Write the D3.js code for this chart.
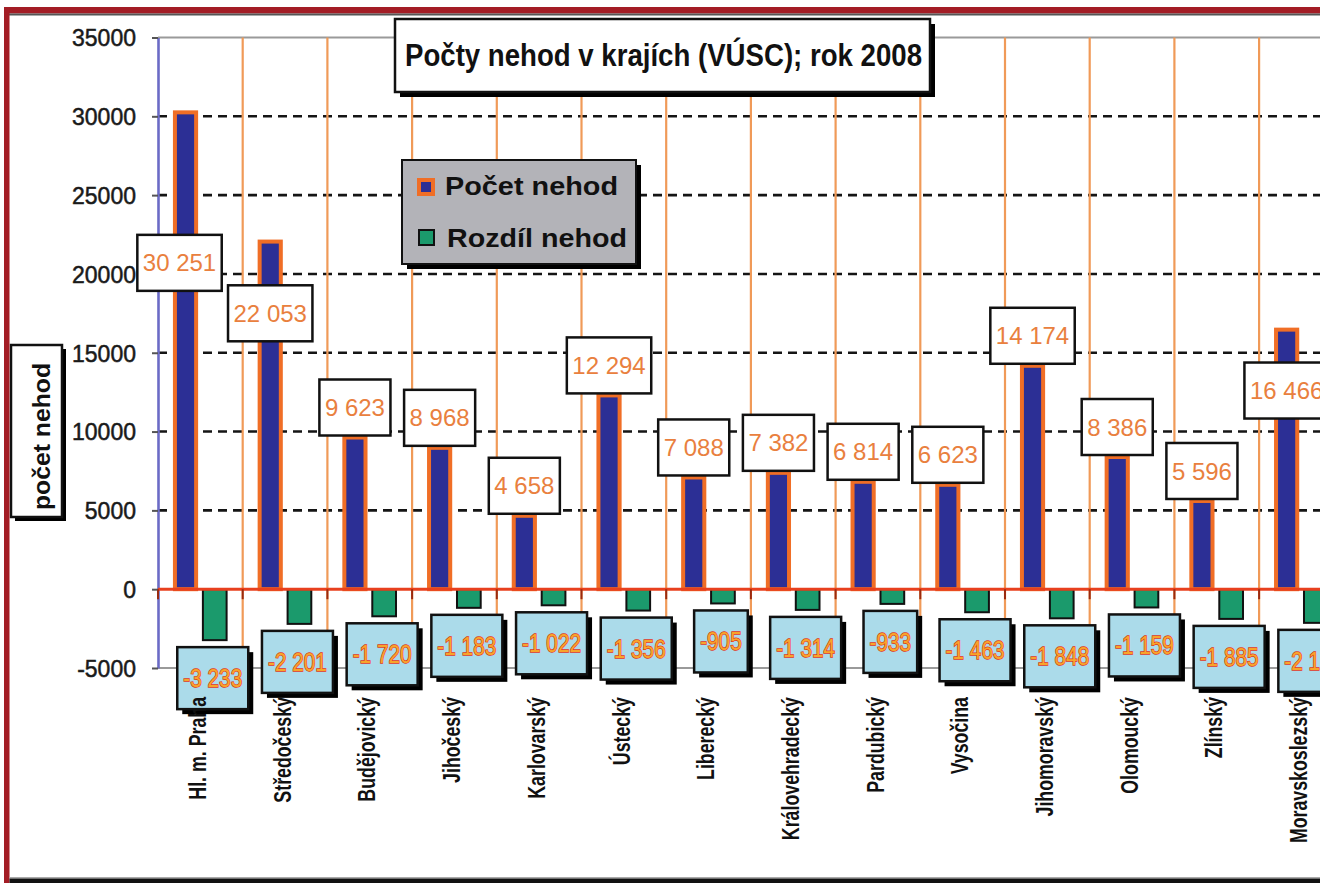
<!DOCTYPE html>
<html><head><meta charset="utf-8">
<script src="https://cdn.jsdelivr.net/npm/d3@7"></script>
<style>html,body{margin:0;padding:0;background:#fff;overflow:hidden} svg{display:block}</style>
</head><body>
<svg id="chart" width="1320" height="883"></svg>
<script>
// ---------- data ----------
const categories = ["Hl. m. Praha","Středočeský","Budějovický","Jihočeský","Karlovarský","Ústecký","Liberecký","Královehradecký","Pardubický","Vysočina","Jihomoravský","Olomoucký","Zlínský","Moravskoslezský"];
const pocetNehod = [30251,22053,9623,8968,4658,12294,7088,7382,6814,6623,14174,8386,5596,16466];
const rozdilNehod = [-3233,-2201,-1720,-1183,-1022,-1356,-905,-1314,-933,-1463,-1848,-1159,-1885,-2136];
const yTicks = [35000,30000,25000,20000,15000,10000,5000,0,-5000];
const seriesNames = ["Počet nehod","Rozdíl nehod"];
const chartTitle = "Počty nehod v krajích (VÚSC); rok 2008";
const yTitle = "počet nehod";

// ---------- layout (manually moved labels, in data units) ----------
const labelMoves = {"Hl. m. Praha":{at:18800,dx:-6},"Středočeský":{at:15600,dx:0},"Moravskoslezský":{at:10700,dx:0}};

const FONT = "'Liberation Sans', Arial, sans-serif";
const svg = d3.select("#chart");
const W = 1320;

const loc = d3.formatLocale({decimal:",",thousands:" ",grouping:[3],currency:["",""],minus:"-"});
const fmtGroup = loc.format(",d");
const fmtInt = loc.format("d");

const y = d3.scaleLinear().domain([-5000,35000]).range([668,37.5]);
const x = d3.scaleBand().domain(categories).range([158,158+84.7*categories.length]).padding(0);
const bw = x.bandwidth();

svg.append("rect").attr("x",0).attr("y",0).attr("width",W).attr("height",883).attr("fill","#fff");

// ---------- gridlines ----------
const grid = svg.append("g");
yTicks.forEach(v=>{
  if (v===0) return;
  const solid = (v===35000||v===-5000);
  grid.append("line").attr("x1",158).attr("x2",W).attr("y1",y(v)).attr("y2",y(v))
    .attr("stroke",solid?"#9a9a9a":"#151515").attr("stroke-width",solid?2:2.6)
    .attr("stroke-dasharray",solid?null:"9,6");
});
d3.range(1,categories.length+1).forEach(k=>{
  const xx = 158 + k*bw;
  grid.append("line").attr("x1",xx).attr("x2",xx).attr("y1",y(35000)).attr("y2",y(-5000))
    .attr("stroke","#f09a58").attr("stroke-width",2.2);
});

// ---------- axis ----------
const ax = svg.append("g").attr("transform","translate(158,0)")
  .call(d3.axisLeft(y).tickValues(yTicks).tickFormat(fmtInt).tickSize(6).tickSizeOuter(0).tickPadding(16));
ax.select(".domain").attr("stroke","#6b6bc6").attr("stroke-width",2.6);
ax.selectAll(".tick line").attr("stroke","#555").attr("stroke-width",2);
ax.selectAll(".tick text").attr("font-family",FONT).attr("font-size",23).attr("fill","#1a1a1a")
  .attr("stroke","#1a1a1a").attr("stroke-width",0.5).attr("dy","0.36em");

// ---------- bars ----------
const bars = svg.append("g");
bars.selectAll("rect.pos").data(categories).join("rect").attr("class","pos")
  .attr("x",c=>x(c)+0.2*bw).attr("width",0.25*bw)
  .attr("y",(c,i)=>y(pocetNehod[i])).attr("height",(c,i)=>y(0)-y(pocetNehod[i]))
  .attr("fill","#2c2f95").attr("stroke","#f06e26").attr("stroke-width",4);
bars.selectAll("rect.neg").data(categories).join("rect").attr("class","neg")
  .attr("x",c=>x(c)+0.53*bw).attr("width",0.28*bw)
  .attr("y",y(0)).attr("height",(c,i)=>y(rozdilNehod[i])-y(0))
  .attr("fill","#1b9a6c").attr("stroke","#111").attr("stroke-width",2);

svg.append("line").attr("x1",158).attr("x2",W).attr("y1",y(0)).attr("y2",y(0))
  .attr("stroke","#e8401e").attr("stroke-width",3);
d3.range(0,categories.length+1).forEach(k=>{
  const xx = 158 + k*bw;
  svg.append("line").attr("x1",xx).attr("x2",xx).attr("y1",y(0)).attr("y2",y(0)+10)
    .attr("stroke","#9a2a10").attr("stroke-width",2);
});

// ---------- positive value labels ----------
const posL = svg.append("g");
categories.forEach((c,i)=>{
  const v = pocetNehod[i];
  const mv = labelMoves[c];
  const anchorV = mv ? mv.at : v;
  const cx = x(c)+0.325*bw + (mv?mv.dx:0);
  const bottom = y(anchorV) - 2;
  const g = posL.append("g");
  const rect = g.append("rect");
  const t = g.append("text").text(fmtGroup(v)).attr("font-family",FONT).attr("font-size",24)
    .attr("fill","#e9803e").attr("text-anchor","middle").attr("x",cx).attr("y",bottom-28+8.6);
  const tw = t.node().getComputedTextLength();
  const w = tw+11, h = 56;
  rect.attr("x",cx-w/2).attr("y",bottom-h).attr("width",w).attr("height",h)
    .attr("fill","#fff").attr("stroke","#111").attr("stroke-width",2.5);
});

// ---------- negative value labels ----------
const negL = svg.append("g");
categories.forEach((c,i)=>{
  const v = rozdilNehod[i];
  const cx = x(c)+0.67*bw-2;
  const top = y(v)+7;
  const h = 62;
  const g = negL.append("g");
  const sh = g.append("rect");
  const rect = g.append("rect");
  const t = g.append("text").text(fmtGroup(v)).attr("font-family",FONT).attr("font-size",26)
    .attr("fill","#f7a52a").attr("stroke","#e2361b").attr("stroke-width",1.4).attr("paint-order","stroke")
    .attr("text-anchor","middle").attr("x",cx).attr("y",top+h/2+9);
  const tw0 = t.node().getComputedTextLength();
  const tw = tw0*0.8;
  t.attr("textLength",tw).attr("lengthAdjust","spacingAndGlyphs");
  const w = tw+12;
  sh.attr("x",cx-w/2+5).attr("y",top+5).attr("width",w).attr("height",h).attr("fill","#000");
  rect.attr("x",cx-w/2).attr("y",top).attr("width",w).attr("height",h)
    .attr("fill","#abdbea").attr("stroke","#111").attr("stroke-width",2.5);
});

// ---------- category labels ----------
const catL = svg.append("g");
categories.forEach(c=>{
  const t = catL.append("text").text(c).attr("font-family",FONT).attr("font-size",24).attr("font-weight","bold")
    .attr("fill","#111").attr("text-anchor","end")
    .attr("transform",`translate(${x(c)+48},697) rotate(-90)`);
  const tw = t.node().getComputedTextLength();
  t.attr("textLength",tw*0.74).attr("lengthAdjust","spacingAndGlyphs");
});

// ---------- title ----------
svg.append("rect").attr("x",400).attr("y",24).attr("width",535).attr("height",73).attr("fill","#000");
svg.append("rect").attr("x",395).attr("y",19).attr("width",535).attr("height",73)
  .attr("fill","#fff").attr("stroke","#111").attr("stroke-width",2.5);
svg.append("text").text(chartTitle).attr("x",405).attr("y",66).attr("font-family",FONT)
  .attr("font-size",31).attr("font-weight","bold").attr("fill","#111")
  .attr("textLength",517).attr("lengthAdjust","spacingAndGlyphs");

// ---------- legend ----------
svg.append("rect").attr("x",407).attr("y",165).attr("width",234).attr("height",104).attr("fill","#000");
svg.append("rect").attr("x",402).attr("y",160).attr("width",234).attr("height",104)
  .attr("fill","#b3b3b8").attr("stroke","#111").attr("stroke-width",2);
const lg = svg.append("g");
lg.append("rect").attr("x",419).attr("y",180).attr("width",14).attr("height",14)
  .attr("fill","#2c2f95").attr("stroke","#f06e26").attr("stroke-width",4);
lg.append("rect").attr("x",419).attr("y",230).attr("width",15).attr("height",15)
  .attr("fill","#1b9a6c").attr("stroke","#111").attr("stroke-width",2);
lg.append("text").text(seriesNames[0]).attr("x",445).attr("y",195).attr("font-family",FONT)
  .attr("font-size",26).attr("font-weight","bold").attr("fill","#111")
  .attr("textLength",173).attr("lengthAdjust","spacingAndGlyphs");
lg.append("text").text(seriesNames[1]).attr("x",447).attr("y",247).attr("font-family",FONT)
  .attr("font-size",26).attr("font-weight","bold").attr("fill","#111")
  .attr("textLength",180).attr("lengthAdjust","spacingAndGlyphs");

// ---------- y axis title ----------
svg.append("rect").attr("x",15).attr("y",349).attr("width",51).attr("height",172).attr("fill","#000");
svg.append("rect").attr("x",11).attr("y",345).attr("width",51).attr("height",172)
  .attr("fill","#fff").attr("stroke","#111").attr("stroke-width",2.5);
svg.append("text").text(yTitle).attr("font-family",FONT).attr("font-size",24).attr("font-weight","bold")
  .attr("fill","#111").attr("text-anchor","middle")
  .attr("transform","translate(50,436.5) rotate(-90)")
  .attr("textLength",147).attr("lengthAdjust","spacingAndGlyphs");

// ---------- outer frame ----------
svg.append("rect").attr("x",4).attr("y",7).attr("width",W).attr("height",6.5).attr("fill","#a31d25");
svg.append("rect").attr("x",9).attr("y",13.5).attr("width",W).attr("height",2).attr("fill","#555");
svg.append("rect").attr("x",4).attr("y",7).attr("width",5.5).attr("height",876).attr("fill","#a31d25");
svg.append("rect").attr("x",9.5).attr("y",877).attr("width",W).attr("height",1.5).attr("fill","#aaa");
svg.append("rect").attr("x",9.5).attr("y",878.5).attr("width",W).attr("height",4.5).attr("fill","#111");
</script>
</body></html>
